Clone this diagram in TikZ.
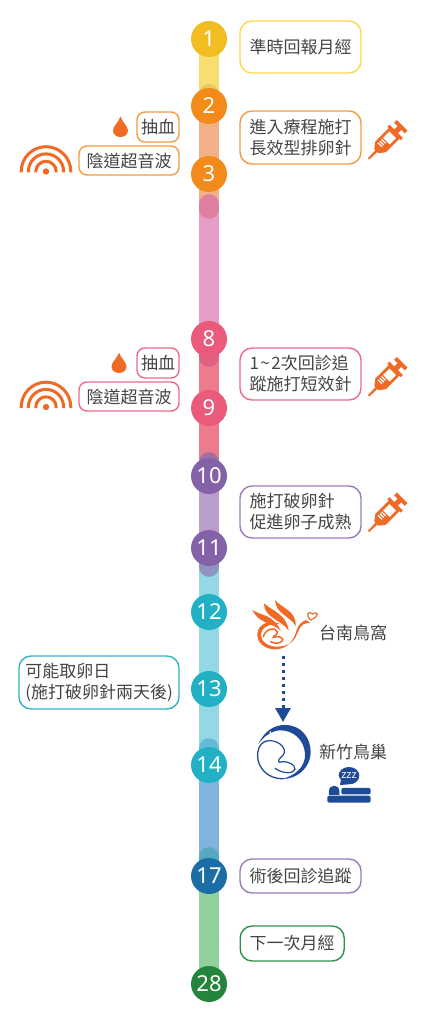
\documentclass[tikz,border=0pt]{standalone}
\usepackage{fontspec}
\setmainfont{Noto Sans CJK TC}
\newfontfamily\numfont{Noto Sans}
\usetikzlibrary{arrows.meta,backgrounds}
\definecolor{ico}{HTML}{EF6A25}
\definecolor{navy}{HTML}{1F4A96}
\definecolor{txt}{HTML}{444444}
\definecolor{cyel}{HTML}{F2BD22}
\definecolor{corg}{HTML}{F28A1C}
\definecolor{cpnk}{HTML}{EA5A7A}
\definecolor{cpur}{HTML}{8462A8}
\definecolor{ccyn}{HTML}{22B1C4}
\definecolor{cblu}{HTML}{1A6EA5}
\definecolor{cgrn}{HTML}{23843C}
\tikzset{
 x=1pt,y=-1pt,
 num/.style={circle,minimum size=36pt,inner sep=0pt,text=white,font=\numfont\fontsize{22}{22}\selectfont},
 bar/.style={line width=20pt},
 capsule/.style={line width=19.6pt,line cap=round},
 note/.style={draw,rounded corners=12pt,line width=1.4pt,text=txt,align=left,inner sep=0pt,anchor=center,font=\fontsize{17}{21}\selectfont},
 smallnote/.style={note,rounded corners=8pt},
 lbl/.style={text=txt,inner sep=0pt,font=\fontsize{17}{21}\selectfont},
 syringe/.pic={
  \fill[ico] (-26,-0.9) -- (-14,-1.4) -- (-14,1.4) -- (-26,0.9) -- cycle;
  \fill[ico] (-15,-3) -- (-9,-7.5) -- (10,-7.5) -- (10,-9.5) -- (13,-9.5) -- (13,-2.5) -- (17.5,-2.5) -- (17.5,-7.5) -- (21.5,-7.5) -- (21.5,7.5) -- (17.5,7.5) -- (17.5,2.5) -- (13,2.5) -- (13,9.5) -- (10,9.5) -- (10,7.5) -- (-9,7.5) -- (-15,3) -- cycle;
  \fill[white] (-1,-4.6) rectangle (8,4.6);
  \foreach \t in {-8,-5.5,-3}{\fill[white] (\t-0.6,-4.6) rectangle (\t+0.6,1);}
 },
 drop/.pic={
  \fill[ico] (0,-10.5) .. controls (1.5,-5) and (7.5,-1) .. (7.5,3.5) .. controls (7.5,7.5) and (4,10) .. (0,10) .. controls (-4,10) and (-7.5,7.5) .. (-7.5,3.5) .. controls (-7.5,-1) and (-1.5,-5) .. (0,-10.5) -- cycle;
 },
 ultrasound/.pic={
  \fill[ico] (0,0) circle[radius=3.2pt];
  \foreach \r in {10.2,17.6,24.8}{\draw[ico,line width=3pt] (\r,1) -- (\r,0) arc[start angle=0,end angle=180,radius=\r pt] -- ++(0,1);}
 }
}
\begin{document}
\begin{tikzpicture}
\useasboundingbox (0,0) rectangle (424,1024);
% day markers
\node[num,fill=cyel] (d1) at (209,39) {1};
\node[num,fill=corg] (d2) at (209,106) {2};
\node[num,fill=corg] (d3) at (209,174) {3};
\node[num,fill=cpnk] (d8) at (209,339) {8};
\node[num,fill=cpnk] (d9) at (209,408) {9};
\node[num,fill=cpur] (d10) at (209,476) {10};
\node[num,fill=cpur] (d11) at (209,548) {11};
\node[num,fill=ccyn] (d12) at (209,612) {12};
\node[num,fill=ccyn] (d13) at (209,689) {13};
\node[num,fill=ccyn] (d14) at (209,765) {14};
\node[num,fill=cblu] (d17) at (209,876) {17};
\node[num,fill=cgrn] (d28) at (209,984) {28};
\coordinate (a3) at (209,204);
\coordinate (b3) at (209,209);
\coordinate (b8) at (209,357);
\coordinate (t10) at (209,462);
\coordinate (b11) at (209,567);
\coordinate (t14) at (209,748);
\coordinate (t17) at (209,857);
\coordinate (t2) at (209,94);
\begin{scope}[on background layer]
 \draw[bar,color={rgb,255:red,248;green,221;blue,112}] (d1.center) -- (d2.center);
 \draw[bar,color={rgb,255:red,242;green,176;blue,136}] (d2.center) -- (a3);
 \draw[bar,color={rgb,255:red,229;green,156;blue,197}] (b3) -- (d8.center);
 \draw[bar,color={rgb,255:red,236;green,123;blue,142}] (d8.center) -- (d10.center);
 \draw[bar,color={rgb,255:red,184;green,160;blue,202}] (d10.center) -- (d11.center);
 \draw[bar,color={rgb,255:red,149;green,216;blue,229}] (b11) -- (d14.center);
 \draw[bar,color={rgb,255:red,128;green,180;blue,220}] (d14.center) -- (d17.center);
 \draw[bar,color={rgb,255:red,144;green,208;blue,154}] (d17.center) -- (d28.center);
 \draw[capsule,color={rgb,255:red,232;green,200;blue,96}] (d2.center) -- (t2);
 \draw[capsule,color={rgb,255:red,224;green,128;blue,159}] (a3) -- (b3);
 \draw[capsule,color={rgb,255:red,224;green,96;blue,127}] (d8.center) -- (b8);
 \draw[capsule,color={rgb,255:red,160;green,112;blue,160}] (d10.center) -- (t10);
 \draw[capsule,color={rgb,255:red,143;green,147;blue,192}] (d11.center) -- (b11);
 \draw[capsule,color={rgb,255:red,98;green,188;blue,216}] (d14.center) -- (t14);
 \draw[capsule,color={rgb,255:red,85;green,168;blue,192}] (d17.center) -- (t17);
\end{scope}
% notes on the right
\node[note,draw={rgb,255:red,255;green,213;blue,74},minimum width=121pt,minimum height=52pt] (n1) at (300.5,47) {準時回報月經};
\node[note,draw={rgb,255:red,245;green,154;blue,64},minimum width=121pt,minimum height=53pt] (n2) at (300.5,137.5) {進入療程施打\\長效型排卵針};
\node[note,draw={rgb,255:red,238;green,106;blue,138},minimum width=121pt,minimum height=52pt] (n8) at (300.5,374) {1\kern1.5pt\textasciitilde\kern1.5pt 2次回診追\\蹤施打短效針};
\node[note,draw={rgb,255:red,155;green,123;blue,184},minimum width=121pt,minimum height=52pt] (n10) at (300.5,512) {施打破卵針\\促進卵子成熟};
\node[note,draw={rgb,255:red,155;green,123;blue,184},minimum width=121pt,minimum height=34pt] (n17) at (300.5,876) {術後回診追蹤};
\node[note,draw={rgb,255:red,47;green,143;blue,79},minimum width=104pt,minimum height=35pt] (n28) at (292.2,943.5) {下一次月經};
% notes on the left
\node[smallnote,draw={rgb,255:red,245;green,154;blue,64},minimum width=42pt,minimum height=30pt] (b1) at (158,127) {抽血};
\node[smallnote,draw={rgb,255:red,245;green,154;blue,64},minimum width=100pt,minimum height=29pt] (u1) at (129,160.5) {陰道超音波};
\node[smallnote,draw={rgb,255:red,238;green,106;blue,138},minimum width=42pt,minimum height=30pt] (b2) at (158,363) {抽血};
\node[smallnote,draw={rgb,255:red,238;green,106;blue,138},minimum width=100pt,minimum height=29pt] (u2) at (129,396.5) {陰道超音波};
\node[note,draw={rgb,255:red,48;green,181;blue,200},minimum width=160pt,minimum height=53pt] (n13) at (99,682.5) {可能取卵日\\(施打破卵針兩天後)};
% icons
\pic at (120.5,127) {drop};
\pic at (119,363) {drop};
\pic at (46,171.5) {ultrasound};
\pic at (46,407) {ultrasound};
\pic[rotate=45] at (387,140.5) {syringe};
\pic[rotate=45] at (387,377.5) {syringe};
\pic[rotate=45] at (387,513) {syringe};
% logos, drawn in the coordinates of a 3x crop
\begin{scope}[shift={(180,590)},x=0.3333pt,y=-0.3333pt]
 % bird
 \fill[ico] (217,60) .. controls (245,78) and (278,72) .. (302,122) .. controls (280,100) and (235,100) .. cycle;
 \fill[ico] (252,40) .. controls (275,62) and (320,72) .. (326,122) .. controls (308,92) and (250,82) .. cycle;
 \fill[ico] (285,30) .. controls (305,55) and (350,62) .. (347,108) .. controls (335,82) and (285,70) .. cycle;
 \fill[ico] (303,103) .. controls (270,88) and (232,100) .. (232,135) .. controls (232,165) and (265,180) .. (290,178) .. controls (330,175) and (345,140) .. (350,120) .. controls (355,105) and (365,95) .. (378,90) -- (390,98) -- (378,100) .. controls (365,102) and (358,115) .. (352,130) .. controls (340,165) and (310,170) .. (290,170) .. controls (265,170) and (243,155) .. (243,135) .. controls (243,110) and (275,98) .. (303,103) -- cycle;
 \draw[ico,line width=1.5pt,line cap=round] (250,140) .. controls (255,118) and (285,108) .. (292,125) .. controls (295,135) and (280,135) .. (280,142) .. controls (295,135) and (318,145) .. (305,155) .. controls (295,162) and (282,160) .. (272,155);
 \draw[ico,line width=1.2pt] (392,90) .. controls (375,75) and (385,60) .. (398,72) .. controls (415,62) and (420,78) .. (392,90) -- cycle;
 % nest
 \fill[navy] (235,462) .. controls (255,420) and (285,405) .. (315,405) .. controls (365,405) and (392,445) .. (392,485) .. controls (392,535) and (350,568) .. (305,567) .. controls (345,558) and (378,530) .. (375,490) .. controls (372,450) and (340,420) .. (300,421) .. controls (275,422) and (250,440) .. (235,462) -- cycle;
 \fill[white] (271,427) circle[radius=1pt];
 \draw[navy,line width=1.3pt] (265,452) .. controls (228,455) and (225,510) .. (245,535) .. controls (262,560) and (290,567) .. (310,566);
 \draw[navy,line width=1.2pt,line cap=round] (265,452) .. controls (300,450) and (325,480) .. (308,497) .. controls (300,505) and (292,510) .. (298,517) .. controls (320,510) and (348,525) .. (345,538) .. controls (340,552) and (310,552) .. (285,535);
 % zzz bed
 \fill[navy] (507,531) .. controls (525,531) and (538,543) .. (538,557) .. controls (538,572) and (525,583) .. (507,583) -- (480,585) -- (483,570) .. controls (478,562) and (476,558) .. (476,557) .. controls (476,543) and (489,531) .. (507,531) -- cycle;
 \fill[navy] (447,615) -- (447,603) .. controls (447,582) and (478,582) .. (478,603) -- (478,615) -- cycle;
 \fill[navy,rounded corners=2pt] (484,594) rectangle (572,613);
 \fill[navy,rounded corners=2pt] (442,617) rectangle (572,638);
\end{scope}
\node[text=white,font=\numfont\bfseries\fontsize{11}{11}\selectfont,inner sep=0pt] (z) at (349,775.5) {zzz};
\coordinate (birdfoot) at (283,656);
\coordinate (nesttop) at (283,722);
\draw[navy,line width=3pt,dash pattern=on 3pt off 4pt,-{Triangle[length=14pt,width=15pt]}] (birdfoot) -- (nesttop);
\node[lbl,anchor=west] (tn) at (319,633) {台南鳥窩};
\node[lbl,anchor=west] (hc) at (319,752) {新竹鳥巢};
\end{tikzpicture}
\end{document}
